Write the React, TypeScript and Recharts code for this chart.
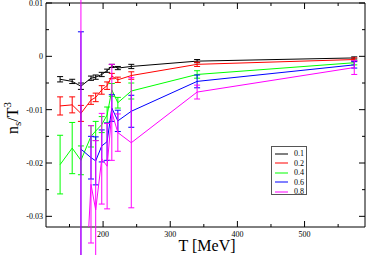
import { LineChart, Line, XAxis, YAxis, ErrorBar, ReferenceArea } from "recharts"

// temperatures (MeV) shared by all series
const temps = [136, 154, 167, 182, 189, 198, 206, 213, 222, 242, 340, 574]

// n_s / T^3 per mu value, null where there is no point
const s01 = [-0.0043, -0.0047, -0.0056, -0.0041, -0.0039, -0.0034, -0.0027, -0.0018, -0.0022, -0.0019, -0.0009, -0.0003]
const e01 = [0.0005, 0.0004, 0.0006, 0.0004, 0.0004, 0.0004, 0.0003, 0.0003, 0.0003, 0.0004, 0.0003, 0.0002]
const s02 = [-0.0093, -0.0091, -0.0107, -0.0082, -0.0077, -0.0063, -0.0055, -0.0037, -0.0044, -0.0036, -0.0015, -0.0006]
const e02 = [0.0017, 0.0015, 0.0015, 0.0008, 0.0008, 0.0008, 0.0007, 0.0005, 0.0005, 0.0007, 0.0004, 0.0003]
const s04 = [-0.0203, -0.0172, -0.0195, -0.015, -0.014, -0.0128, -0.011, -0.0063, -0.0087, -0.0065, -0.0034, -0.0012]
const e04 = [0.0055, 0.0048, 0.0027, 0.002, 0.0018, 0.0015, 0.0015, 0.0012, 0.001, 0.0015, 0.0007, 0.0004]
const s06 = [null, null, -0.0174, -0.019, -0.0196, -0.0168, -0.016, -0.0097, -0.0121, -0.0103, -0.0047, -0.0016]
const e06 = [null, null, 0.022, 0.004, 0.0045, 0.003, 0.0035, 0.0025, 0.002, 0.003, 0.0012, 0.0006]
const s08 = [null, null, -0.06, -0.024, -0.0288, -0.0192, -0.0206, -0.0105, -0.0143, -0.0162, -0.0067, -0.0021]
const e08 = [null, null, 0.075, 0.011, 0.013, 0.0085, 0.008, 0.009, 0.0035, 0.0122, 0.0013, 0.0013]

const names = ["0.1", "0.2", "0.4", "0.6", "0.8"]
const colors = ["#000000", "#ff0000", "#00ff00", "#0000ff", "#ff00ff"]
const legendColors = ["#808080", "#ff8080", "#80ff80", "#8080ff", "#ff80ff"]
const values = [s01, s02, s04, s06, s08]
const errors = [e01, e02, e04, e06, e08]

const xTicks = [150, 200, 250, 300, 350, 400, 450, 500, 550]
const yTicks = [-0.03, -0.025, -0.02, -0.015, -0.01, -0.005, 0, 0.005, 0.01]

const W = 368
const H = 255
const TOP = 3
const RIGHT = 3
const LEFT = 46
const XH = 28
const plotRight = W - RIGHT
const font = "'Liberation Serif', 'DejaVu Serif', serif"

function rows(i: number) {
  return temps
    .map((T, j) => ({ T, v: values[i][j], e: errors[i][j] }))
    .filter((r) => r.v != null)
}

const XTick = (props: any) => {
  const { x, y, payload } = props
  const v = payload.value
  const major = v % 100 === 0
  const len = major ? 6 : 3
  return (
    <g>
      <line x1={x} x2={x} y1={y} y2={y - len} stroke="#000" />
      <line x1={x} x2={x} y1={TOP} y2={TOP + len} stroke="#000" />
      {major && (
        <text x={x} y={y + 10} textAnchor="middle" fontSize={8} fontFamily={font} fill="#000">
          {v}
        </text>
      )}
    </g>
  )
}

const YTick = (props: any) => {
  const { x, y, payload } = props
  const v = payload.value
  const major = Math.round(v * 1000) % 10 === 0
  const len = major ? 6 : 3
  return (
    <g>
      <line x1={x} x2={x + len} y1={y} y2={y} stroke="#000" />
      <line x1={plotRight} x2={plotRight - len} y1={y} y2={y} stroke="#000" />
      {major && (
        <text x={x - 3} y={y + 3} textAnchor="end" fontSize={8} fontFamily={font} fill="#000">
          {v === 0 ? "0" : String(v)}
        </text>
      )}
    </g>
  )
}

export default function App() {
  return (
    <div style={{ position: "absolute", left: 0, top: 0, width: W, height: H, background: "#fff", fontFamily: font }}>
      <LineChart width={W} height={H} margin={{ top: TOP, right: RIGHT, left: 0, bottom: 0 }}>
        <XAxis
          type="number"
          dataKey="T"
          domain={[115, 590]}
          allowDataOverflow
          ticks={xTicks}
          interval={0}
          tick={XTick}
          tickLine={false}
          axisLine={false}
          tickSize={0}
          tickMargin={0}
          height={XH}
        />
        <YAxis
          type="number"
          domain={[-0.032, 0.01]}
          allowDataOverflow
          ticks={yTicks}
          interval={0}
          tick={YTick}
          tickLine={false}
          axisLine={false}
          tickSize={0}
          tickMargin={0}
          width={LEFT}
        />
        {names.map((n, i) => (
          <Line
            key={n}
            name={n}
            data={rows(i)}
            dataKey="v"
            stroke={colors[i]}
            strokeWidth={1}
            dot={false}
            isAnimationActive={false}
          >
            <ErrorBar dataKey="e" width={3} stroke={colors[i]} strokeWidth={1} direction="y" isAnimationActive={false} />
          </Line>
        ))}
        <ReferenceArea x1={115} x2={590} y1={-0.032} y2={0.01} fill="none" stroke="#000" strokeWidth={1} ifOverflow="visible" />
      </LineChart>

      <div
        style={{
          position: "absolute",
          left: 271,
          top: 146,
          width: 36,
          height: 49,
          border: "1px solid #555",
          background: "#fff",
          boxSizing: "border-box",
          padding: "2px 0 0 3px",
        }}
      >
        {names.map((n, i) => (
          <div key={n} style={{ display: "flex", alignItems: "center", height: 9.5, fontSize: 8, lineHeight: "9px" }}>
            <div style={{ width: 13, height: 2, background: legendColors[i], marginRight: 6 }} />
            <span>{n}</span>
          </div>
        ))}
      </div>

      <div
        style={{
          position: "absolute",
          left: 207,
          top: 246,
          transform: "translate(-50%, -50%)",
          fontSize: 16,
          whiteSpace: "nowrap",
          lineHeight: 1,
        }}
      >
        T [MeV]
      </div>

      <div
        style={{
          position: "absolute",
          left: 12,
          top: 118,
          transform: "translate(-50%, -50%) rotate(-90deg)",
          fontSize: 16,
          whiteSpace: "nowrap",
          lineHeight: 1,
        }}
      >
        n<sub style={{ fontSize: 11, verticalAlign: "-3px" }}>s</sub>/T<sup style={{ fontSize: 11, verticalAlign: "7px" }}>3</sup>
      </div>
    </div>
  )
}
